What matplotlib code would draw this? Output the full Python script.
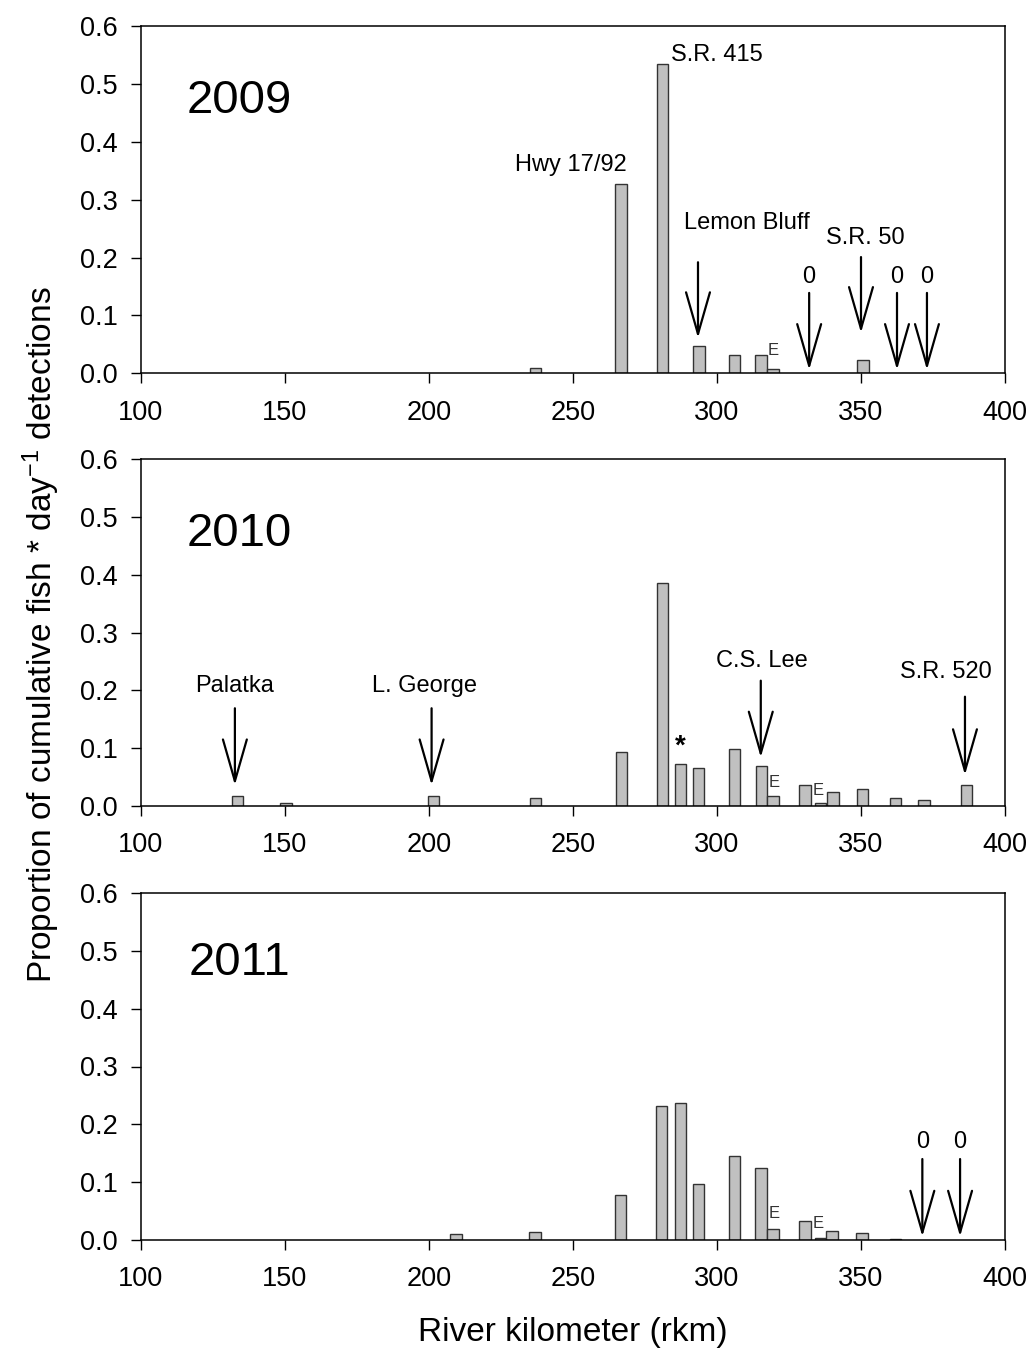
import matplotlib
matplotlib.use("Agg")
import matplotlib.pyplot as plt

plt.rcParams['font.family'] = ['Liberation Sans', 'DejaVu Sans']
plt.rcParams['mathtext.default'] = 'regular'

# ---- data ----
rkm_2009 = [237.0, 266.7, 281.1, 293.7, 306.1, 315.3, 319.4, 350.7]
val_2009 = [0.009, 0.327, 0.535, 0.047, 0.031, 0.031, 0.008, 0.023]

rkm_2010 = [133.5, 150.3, 201.6, 237.0, 266.8, 281.1, 287.3, 293.6, 306.1,
            315.4, 319.4, 330.6, 335.9, 340.2, 350.6, 362.0, 371.9, 386.7]
val_2010 = [0.018, 0.005, 0.018, 0.013, 0.094, 0.385, 0.072, 0.066, 0.098,
            0.070, 0.018, 0.036, 0.005, 0.024, 0.030, 0.014, 0.010, 0.036]

rkm_2011 = [209.4, 236.8, 266.5, 280.8, 287.3, 293.6, 306.1, 315.3, 319.4,
            330.6, 335.9, 340.0, 350.3, 362.0]
val_2011 = [0.010, 0.013, 0.077, 0.231, 0.237, 0.096, 0.145, 0.124, 0.019,
            0.032, 0.003, 0.015, 0.012, 0.002]

years = ['2009', '2010', '2011']

# site labels: (text, x, y)
labels_2009 = [('Hwy 17/92', 249.3, 0.361), ('S.R. 415', 300.0, 0.550),
               ('Lemon Bluff', 310.4, 0.260), ('S.R. 50', 351.4, 0.234),
               ('0', 332.0, 0.1665), ('0', 362.5, 0.1665), ('0', 372.9, 0.1665)]
labels_2010 = [('Palatka', 132.6, 0.2075), ('L. George', 198.3, 0.2075),
               ('C.S. Lee', 315.5, 0.251), ('S.R. 520', 379.4, 0.232)]
labels_2011 = [('0', 371.3, 0.170), ('0', 384.4, 0.170)]

# arrows: (x, y_tail, y_tip)
arrows_2009 = [(293.4, 0.192, 0.061), (332.0, 0.139, 0.006), (350.0, 0.201, 0.070),
               (362.5, 0.139, 0.006), (372.9, 0.139, 0.006)]
arrows_2010 = [(132.6, 0.169, 0.036), (200.9, 0.169, 0.036),
               (315.2, 0.2167, 0.084), (386.1, 0.189, 0.0536)]
arrows_2011 = [(371.3, 0.140, 0.006), (384.4, 0.140, 0.006)]

# small "E" marks: (x, y)
e_2009 = [(319.4, 0.0386)]
e_2010 = [(319.9, 0.040), (335.1, 0.027)]
e_2011 = [(319.9, 0.045), (335.1, 0.029)]

star_2010 = (287.4, 0.102)

panels = [
    (rkm_2009, val_2009, labels_2009, arrows_2009, e_2009),
    (rkm_2010, val_2010, labels_2010, arrows_2010, e_2010),
    (rkm_2011, val_2011, labels_2011, arrows_2011, e_2011),
]

W, H = 1031, 1348
fig = plt.figure(figsize=(W / 100, H / 100), dpi=100)

left = 141 / W
width = 864 / W
height = 347 / H
bottoms_px = [373.3, 806.0, 1240.0]

axes = []
for i, (rkm, val, labs, arrs, es) in enumerate(panels):
    ax = fig.add_axes([left, 1 - bottoms_px[i] / H, width, height])
    axes.append(ax)
    ax.bar(rkm, val, width=4.0, color='#c0c0c0', edgecolor='#333333',
           linewidth=1.0, align='center', zorder=2)
    ax.set_xlim(100, 400)
    ax.set_ylim(0, 0.6)
    ax.set_xticks([100, 150, 200, 250, 300, 350, 400])
    ax.set_yticks([0.0, 0.1, 0.2, 0.3, 0.4, 0.5, 0.6])
    ax.set_yticklabels(['0.0', '0.1', '0.2', '0.3', '0.4', '0.5', '0.6'])
    ax.tick_params(axis='both', direction='out', length=7, width=1.0,
                   labelsize=19.5, colors='black')
    ax.tick_params(axis='y', pad=10)
    ax.tick_params(axis='x', pad=12)
    for s in ax.spines.values():
        s.set_linewidth(1.1)
        s.set_color('black')
    ax.text(134.2, 0.471 if i < 2 else 0.479, years[i], fontsize=34,
            ha='center', va='center')
    for t, x, y in labs:
        ax.text(x, y, t, fontsize=17, ha='center', va='center')
    for x, y0, y1 in arrs:
        ax.annotate('', xy=(x, y1), xytext=(x, y0),
                    arrowprops=dict(arrowstyle='->,head_length=30,head_width=8.6',
                                    mutation_scale=1, lw=1.6, color='black',
                                    shrinkA=0, shrinkB=0))
    for x, y in es:
        ax.text(x, y, 'E', fontsize=12, ha='center', va='center', color='#333333')

axes[1].text(star_2010[0], star_2010[1], '*', fontsize=20, fontweight='bold',
             ha='center', va='center')

fig.text(573 / W, 1 - 1332 / H, 'River kilometer (rkm)', fontsize=24,
         ha='center', va='center')
fig.text(41 / W, 1 - 635 / H,
         'Proportion of cumulative fish * day$^{-1}$ detections',
         fontsize=24, ha='center', va='center', rotation=90)

fig.savefig('out.png', dpi=100)
